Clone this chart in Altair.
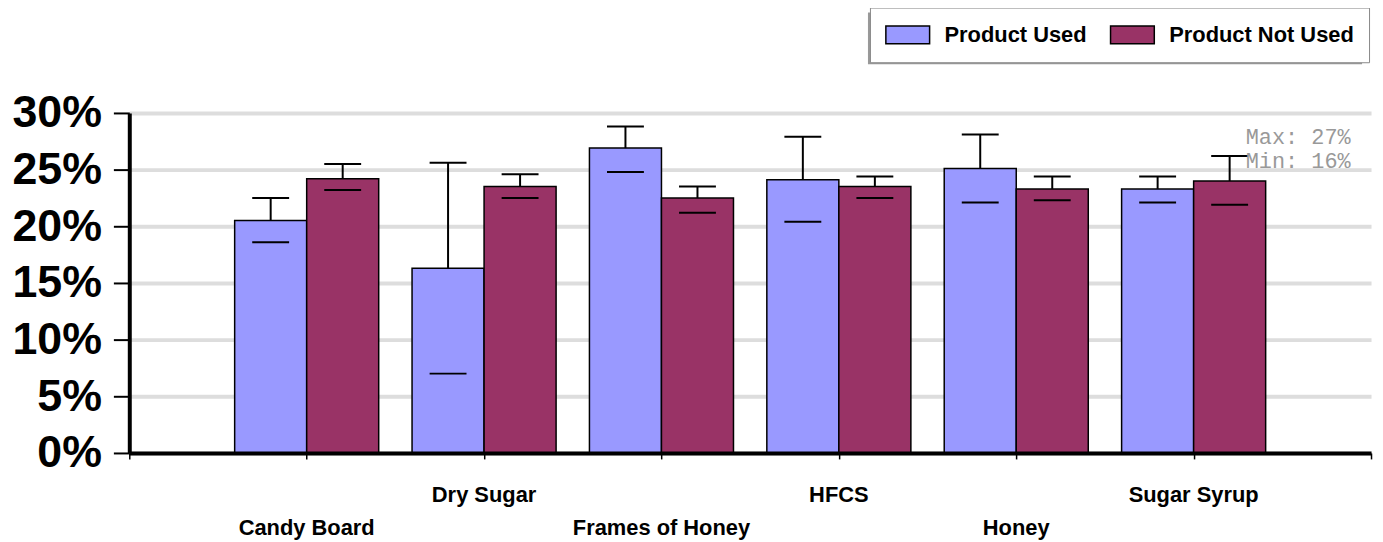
import altair as alt
import pandas as pd

categories = ["Candy Board", "Dry Sugar", "Frames of Honey", "HFCS", "Honey", "Sugar Syrup"]
series_names = ["Product Used", "Product Not Used"]
series_colors = ["#9999FF", "#993366"]

used_val = [20.5, 16.3, 26.9, 24.1, 25.1, 23.3]
used_hi = [22.5, 25.6, 28.8, 27.9, 28.1, 24.4]
used_lo = [18.6, 7.0, 24.8, 20.4, 22.1, 22.1]
not_val = [24.2, 23.5, 22.5, 23.5, 23.3, 24.0]
not_hi = [25.5, 24.6, 23.5, 24.4, 24.4, 26.2]
not_lo = [23.2, 22.5, 21.2, 22.5, 22.3, 21.9]
y_ticks = [0, 5, 10, 15, 20, 25, 30]

rows = []
for i, c in enumerate(categories):
    rows.append(dict(cat=c, pos=i + 1, series=series_names[0], value=used_val[i] / 100,
                     hi=used_hi[i] / 100, lo=used_lo[i] / 100))
    rows.append(dict(cat=c, pos=i + 1, series=series_names[1], value=not_val[i] / 100,
                     hi=not_hi[i] / 100, lo=not_lo[i] / 100))
df = pd.DataFrame(rows)
cat_df = pd.DataFrame({"cat": categories, "pos": list(range(1, len(categories) + 1))})

all_vals = used_val + not_val
ann_df = pd.DataFrame({
    "line": [f"Max: {round(max(all_vals))}%", f"Min: {round(min(all_vals))}%"],
    "k": [0, 1],
})

FONT = "Liberation Sans"
xscale = alt.Scale(domain=[0, len(categories) + 1], nice=False, zero=False)
yscale = alt.Scale(domain=[0, 0.30], nice=False)
xaxis = alt.Axis(values=list(range(len(categories) + 2)), labels=False, title=None, grid=False,
                 tickSize=6, tickWidth=1.5, tickColor="black", domainWidth=4,
                 domainColor="black", zindex=1)
yaxis = alt.Axis(values=[v / 100 for v in y_ticks], format="%", title=None,
                 labelFont=FONT, labelFontSize=45, labelFontWeight="bold", labelColor="black",
                 labelPadding=12, tickSize=16, tickWidth=2, tickColor="black",
                 domainWidth=4, domainColor="black", gridColor="#dddddd", gridWidth=4)

BW = 0.406
base = alt.Chart(df).transform_calculate(
    x0="datum.pos + (datum.series == 'Product Used' ? -%f : 0)" % BW,
).transform_calculate(
    x1="datum.x0 + %f" % BW,
    xc="datum.x0 + %f" % (BW / 2),
).transform_calculate(
    cl="datum.xc - 0.104",
    cr="datum.xc + 0.104",
)

bars = base.mark_bar(stroke="black", strokeWidth=1.5).encode(
    x=alt.X("x0:Q", scale=xscale, axis=xaxis),
    x2="x1:Q",
    y=alt.Y("value:Q", scale=yscale, axis=yaxis),
    y2=alt.datum(0),
    color=alt.Color("series:N", scale=alt.Scale(domain=series_names, range=series_colors),
                    legend=alt.Legend(orient="none", legendX=745, legendY=-106,
                                      direction="horizontal", title=None,
                                      fillColor="white", strokeColor="#888888",
                                      padding=15, labelFont=FONT, labelFontSize=22,
                                      labelFontWeight="bold", labelColor="black",
                                      labelLimit=400,
                                      symbolType="M-1,-0.82H3V0.82H-1Z", symbolSize=484,
                                      symbolStrokeColor="black", symbolStrokeWidth=1.5,
                                      symbolOpacity=1, labelOffset=36, columnPadding=20)),
)

whisker = base.mark_rule(color="black", strokeWidth=2).encode(
    x=alt.X("xc:Q", scale=xscale, axis=xaxis),
    y=alt.Y("value:Q", scale=yscale, axis=yaxis),
    y2="hi:Q",
)
cap_hi = base.mark_rule(color="black", strokeWidth=2).encode(
    x=alt.X("cl:Q", scale=xscale, axis=xaxis),
    x2="cr:Q",
    y=alt.Y("hi:Q", scale=yscale, axis=yaxis),
)
cap_lo = base.mark_rule(color="black", strokeWidth=2).encode(
    x=alt.X("cl:Q", scale=xscale, axis=xaxis),
    x2="cr:Q",
    y=alt.Y("lo:Q", scale=yscale, axis=yaxis),
)

labels = alt.Chart(cat_df).transform_calculate(
    ly="datum.pos % 2 == 0 ? 384 : 418"
).mark_text(font=FONT, fontSize=22, fontWeight="bold", baseline="middle", color="black").encode(
    x=alt.X("pos:Q", scale=xscale, axis=xaxis),
    y=alt.Y("ly:Q", scale=None),
    text="cat:N",
)

ann = alt.Chart(ann_df).transform_calculate(
    ay="31 + datum.k * 24"
).mark_text(font="Liberation Mono", fontSize=22, color="#999999", align="left",
            baseline="alphabetic").encode(
    x=alt.value(1123),
    y=alt.Y("ay:Q", scale=None),
    text="line:N",
)

shadow = alt.Chart(cat_df).transform_filter("datum.pos == 1").mark_rect(color="#999999").encode(
    x=alt.value(743), x2=alt.value(1240), y=alt.value(-101), y2=alt.value(-49),
)

chart = alt.layer(shadow, bars, whisker, cap_hi, cap_lo, labels, ann).properties(
    width=1249, height=342,
    autosize=alt.AutoSizeParams(type="none"),
    padding={"left": 122, "top": 104, "right": 4, "bottom": 88},
).configure_view(stroke=None)

chart.save("out.html", embed_options={"renderer": "svg", "actions": False})
